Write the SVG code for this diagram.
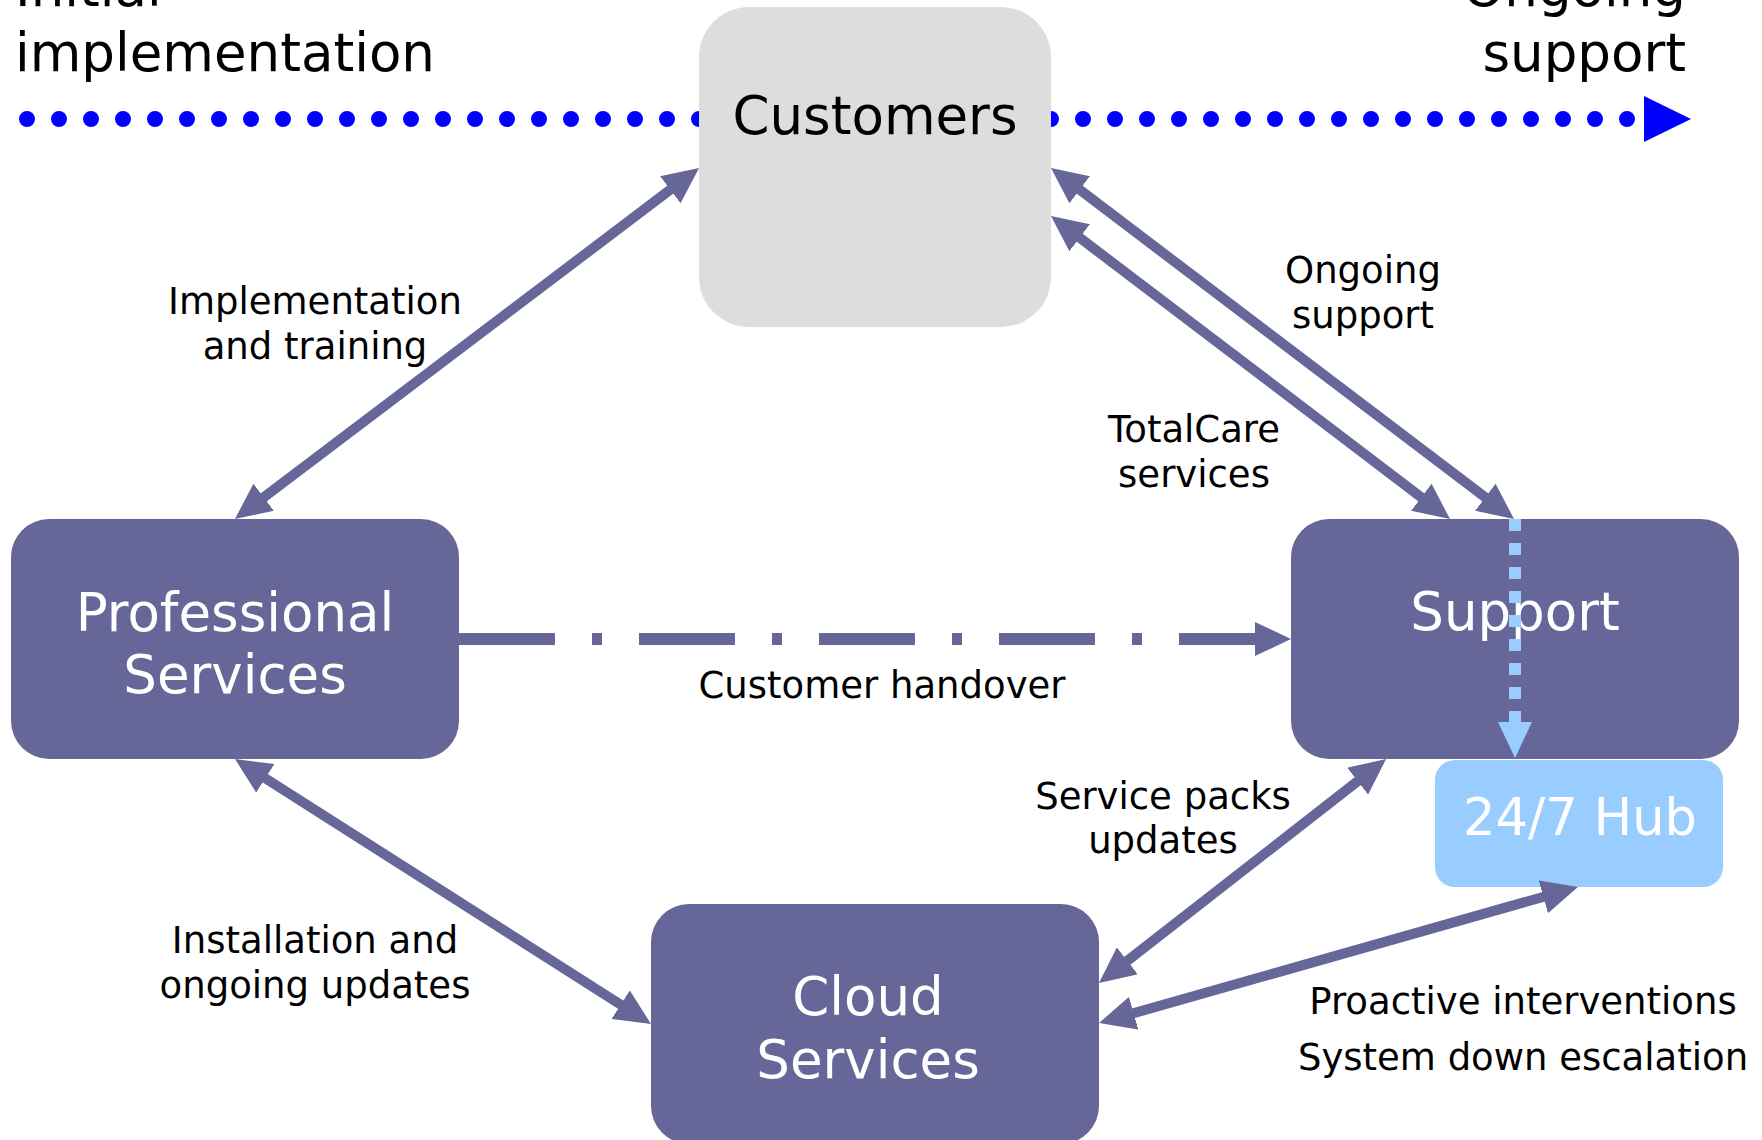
<svg xmlns="http://www.w3.org/2000/svg" width="1762" height="1140" viewBox="0 0 1762 1140">
<style>
  .big { font-family: "DejaVu Sans", Verdana, sans-serif; font-size: 53px; }
  .lbl { font-family: "DejaVu Sans", Verdana, sans-serif; font-size: 37px; fill: #000000; text-anchor: middle; }
  .ntxt { fill: #ffffff; text-anchor: middle; }
  .node { fill: #666699; }
  .conn { stroke: #666699; stroke-width: 10; fill: none; marker-start: url(#ah); marker-end: url(#ah); }
</style>
<defs>
  <marker id="ah" markerUnits="userSpaceOnUse" markerWidth="36" markerHeight="34" viewBox="0 0 36 34" refX="6" refY="17" orient="auto-start-reverse">
    <path d="M0,0 L36,17 L0,34 Z" fill="#666699"/>
  </marker>
  <marker id="ahEnd" markerUnits="userSpaceOnUse" markerWidth="36" markerHeight="34" viewBox="0 0 36 34" refX="6" refY="17" orient="auto">
    <path d="M0,0 L36,17 L0,34 Z" fill="#666699"/>
  </marker>
  <marker id="ahBlue" markerUnits="userSpaceOnUse" markerWidth="36" markerHeight="34" viewBox="0 0 36 34" refX="2" refY="17" orient="auto">
    <path d="M0,0 L36,17 L0,34 Z" fill="#99CCFF"/>
  </marker>
</defs>
<rect x="0" y="0" width="1762" height="1140" fill="#ffffff"/>

<g id="timeline">
  <text class="big" x="15" y="6" fill="#000000">Initial</text>
  <text class="big" x="15" y="71" fill="#000000">implementation</text>
  <text class="big" x="1686" y="6" fill="#000000" text-anchor="end">Ongoing</text>
  <text class="big" x="1686" y="71" fill="#000000" text-anchor="end">support</text>
  <line x1="27" y1="119" x2="1636" y2="119" stroke="#0000FF" stroke-width="16" stroke-linecap="round" stroke-dasharray="0 32"/>
  <polygon points="1644,96 1691,119 1644,142" fill="#0000FF"/>
</g>

<g id="customers">
  <rect x="699" y="7" width="352" height="320" rx="50" ry="50" fill="#DDDDDD"/>
  <text class="big" x="875" y="134" fill="#000000" text-anchor="middle">Customers</text>
</g>

<g id="professional-services">
  <rect class="node" x="11" y="519" width="448" height="240" rx="38" ry="38"/>
  <text class="big ntxt" x="235" y="631">Professional</text>
  <text class="big ntxt" x="235" y="693">Services</text>
</g>

<g id="support">
  <rect class="node" x="1291" y="519" width="448" height="240" rx="38" ry="38"/>
  <text class="big ntxt" x="1515" y="630">Support</text>
</g>

<g id="hub">
  <rect x="1435" y="760" width="288" height="127" rx="20" ry="20" fill="#99CCFF"/>
  <text class="big ntxt" x="1580" y="835" style="font-size:51px">24/7 Hub</text>
</g>

<g id="cloud-services">
  <rect class="node" x="651" y="904" width="448" height="240" rx="38" ry="38"/>
  <text class="big ntxt" x="868" y="1015">Cloud</text>
  <text class="big ntxt" x="868" y="1078">Services</text>
</g>

<g id="connectors">
  <line class="conn" x1="258.9" y1="500.9" x2="675.1" y2="186.1"/>
  <line class="conn" x1="1074.9" y1="186.1" x2="1490.1" y2="500.9"/>
  <line class="conn" x1="1074.9" y1="234.1" x2="1426.1" y2="500.9"/>
  <line x1="459" y1="639" x2="1261" y2="639" stroke="#666699" stroke-width="12" stroke-dasharray="96 37 10 37" marker-end="url(#ahEnd)"/>
  <line class="conn" x1="260.3" y1="775.1" x2="625.7" y2="1007.9"/>
  <line class="conn" x1="1122.6" y1="964.5" x2="1362.4" y2="777.5"/>
  <line class="conn" x1="1127.9" y1="1014.8" x2="1549.1" y2="895.2"/>
  <line x1="1515" y1="519" x2="1515" y2="724" stroke="#99CCFF" stroke-width="12" stroke-dasharray="12 12" marker-end="url(#ahBlue)"/>

  <text class="lbl" x="315" y="314">Implementation</text>
  <text class="lbl" x="315" y="359">and training</text>
  <text class="lbl" x="1363" y="283">Ongoing</text>
  <text class="lbl" x="1363" y="328">support</text>
  <text class="lbl" x="1194" y="442">TotalCare</text>
  <text class="lbl" x="1194" y="487">services</text>
  <text class="lbl" x="882" y="698">Customer handover</text>
  <text class="lbl" x="1163" y="809">Service packs</text>
  <text class="lbl" x="1163" y="853">updates</text>
  <text class="lbl" x="315" y="953">Installation and</text>
  <text class="lbl" x="315" y="998">ongoing updates</text>
  <text class="lbl" x="1523" y="1014">Proactive interventions</text>
  <text class="lbl" x="1523" y="1070">System down escalation</text>
</g>
</svg>
